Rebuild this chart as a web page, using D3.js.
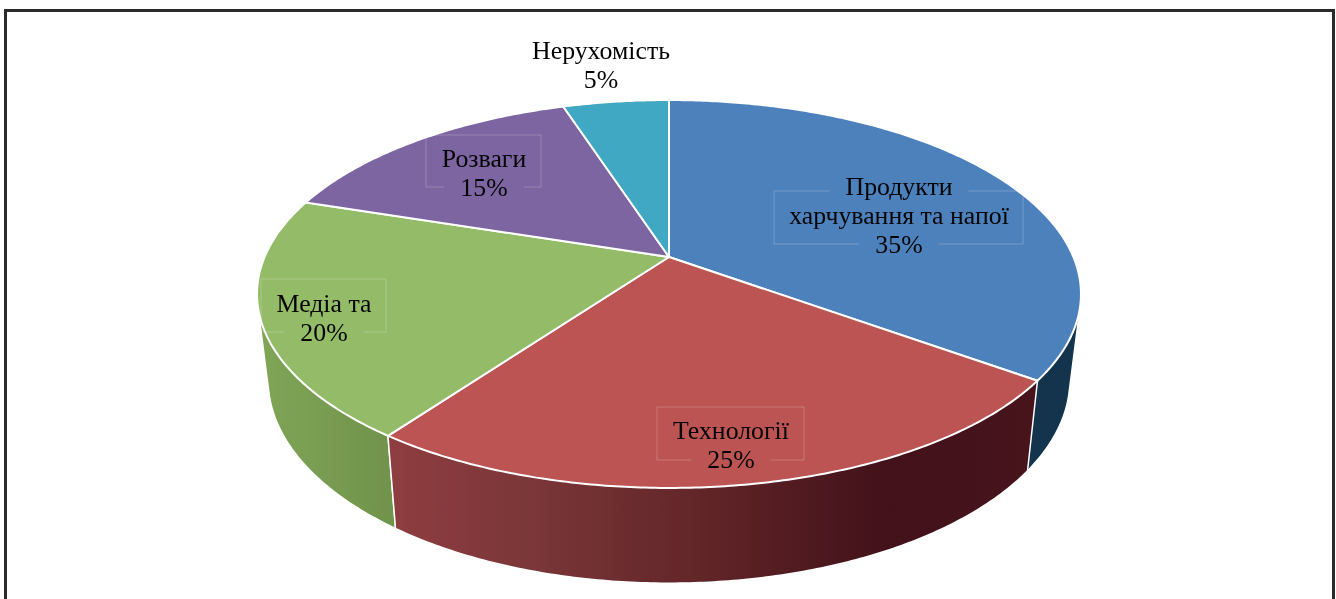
<!DOCTYPE html>
<html>
<head>
<meta charset="utf-8">
<script src="https://cdn.jsdelivr.net/npm/d3@7"></script>
<style>
  html, body { margin: 0; background: #fff; }
  svg { display: block; filter: blur(0.4px); }
  text { font-family: "Liberation Serif", serif; font-size: 25.8px; fill: #050505; text-anchor: middle; }
</style>
</head>
<body>
<script>
const WIDTH = 1336,
      HEIGHT = 599,
      CX = 669,
      TILT = 0.1907,
      LINE_HEIGHT = 29.2;

// chart values, clockwise from 12 o'clock
const categories = ['Продукти харчування та напої', 'Технології', 'Медіа та', 'Розваги', 'Нерухомість'];
const shares = [35, 25, 20, 15, 5];

const labelLines = [['Продукти', 'харчування та напої'], ['Технології'], ['Медіа та'], ['Розваги'], ['Нерухомість']];

// colours per slice
const topColors = ['#4d81bc', '#bb5453', '#94bb68', '#7c65a1', '#40a8c2'];
const wallStops = [
  [['0%', '#14334d'], ['100%', '#14334d']],
  [['0%', '#8e3d40'], ['22%', '#7a3638'], ['50%', '#602427'], ['78%', '#42111a'], ['100%', '#47141c']],
  [['0%', '#7fa456'], ['100%', '#70924b']],
  [['0%', '#5c4a7a'], ['100%', '#5c4a7a']],
  [['0%', '#2b7c90'], ['100%', '#2b7c90']]
];

// label layout: centre x, y of first baseline, and the thin box behind it (null = no box)
const labelLayout = [
  {x: 899, y: 195, box: [774, 191, 249, 53]},
  {x: 731, y: 439, box: [657, 407, 147, 53]},
  {x: 324, y: 312, box: [261, 279, 125, 53]},
  {x: 484, y: 167, box: [426, 135, 115, 52]},
  {x: 601, y: 59, box: null}
];

// rim of the top disc and of the lower edge, both seen in perspective
const topRim = {y0: 257, a: 404.4, b: 186.9};
const lowRim = {y0: 341, a: 393.5, b: 196};

function rimPoint(rim, angle) {
  const d = 1 + TILT * Math.cos(angle);
  return [CX + rim.a * Math.sin(angle) / d, rim.y0 - rim.b * Math.cos(angle) / d];
}

function arcPoints(rim, from, to) {
  const pts = d3.range(from, to, 0.01).map(a => rimPoint(rim, a));
  pts.push(rimPoint(rim, to));
  return pts;
}

const pie = d3.pie().sort(null)(shares);
const line = d3.line();

const svg = d3.select('body').append('svg')
    .attr('width', WIDTH)
    .attr('height', HEIGHT);

// frame, open at the bottom
svg.append('path')
    .attr('d', 'M5.5,' + HEIGHT + 'V10.5H1333.5V' + HEIGHT)
    .attr('fill', 'none')
    .attr('stroke', '#2b2b2b')
    .attr('stroke-width', 3);

const defs = svg.append('defs');
wallStops.forEach((stops, i) => {
  const xs = arcPoints(lowRim, pie[i].startAngle, pie[i].endAngle).map(p => p[0]);
  const grad = defs.append('linearGradient')
      .attr('id', 'wall' + i)
      .attr('gradientUnits', 'userSpaceOnUse')
      .attr('x1', d3.min(xs)).attr('x2', d3.max(xs))
      .attr('y1', 0).attr('y2', 0);
  stops.forEach(s => grad.append('stop').attr('offset', s[0]).attr('stop-color', s[1]));
});

// side walls: hull of both rims gives the straight tangent edge of the cylinder.
// slices nearest the viewer go last, top faces cover the rest
const midDist = d => Math.abs((d.startAngle + d.endAngle) / 2 - Math.PI);
const wallOrder = pie.slice().sort((a, b) => midDist(b) - midDist(a));

svg.append('g').selectAll('path')
    .data(wallOrder)
  .join('path')
    .attr('d', d => line(d3.polygonHull(arcPoints(topRim, d.startAngle, d.endAngle)
        .concat(arcPoints(lowRim, d.startAngle, d.endAngle)))) + 'Z')
    .attr('fill', d => 'url(#wall' + d.index + ')')
    .attr('stroke', '#fff')
    .attr('stroke-width', 1.5)
    .attr('stroke-linejoin', 'round');

svg.append('g').selectAll('path')
    .data(pie)
  .join('path')
    .attr('d', d => line([[CX, topRim.y0]].concat(arcPoints(topRim, d.startAngle, d.endAngle))) + 'Z')
    .attr('fill', (d, i) => topColors[i])
    .attr('stroke', '#fff')
    .attr('stroke-width', 2)
    .attr('stroke-linejoin', 'round');

// labels
const labels = svg.append('g').selectAll('g')
    .data(categories)
  .join('g')
    .attr('aria-label', d => d);

labels.each(function(d, i) {
  const g = d3.select(this),
        layout = labelLayout[i],
        lines = labelLines[i].concat(shares[i] + '%');

  const rows = lines.map((t, n) => g.append('text')
      .attr('x', layout.x)
      .attr('y', layout.y + n * LINE_HEIGHT)
      .text(t));

  if (!layout.box) return;

  // the box is broken where the first and last rows of text sit on it
  const [x, y, w, h] = layout.box;
  const gap = r => r.node().getComputedTextLength() / 2 + 16;
  const gapBottom = gap(rows[rows.length - 1]);
  let d2 = 'M' + (layout.x - gapBottom) + ',' + (y + h) + 'H' + x + 'V' + y;
  if (rows.length > 2) {
    const gapTop = gap(rows[0]);
    d2 += 'H' + (layout.x - gapTop) + 'M' + (layout.x + gapTop) + ',' + y;
  }
  d2 += 'H' + (x + w) + 'V' + (y + h) + 'H' + (layout.x + gapBottom);
  g.insert('path', 'text')
      .attr('d', d2)
      .attr('fill', 'none')
      .attr('stroke', '#fff')
      .attr('stroke-opacity', 0.22)
      .attr('stroke-width', 1);
});
</script>
</body>
</html>
